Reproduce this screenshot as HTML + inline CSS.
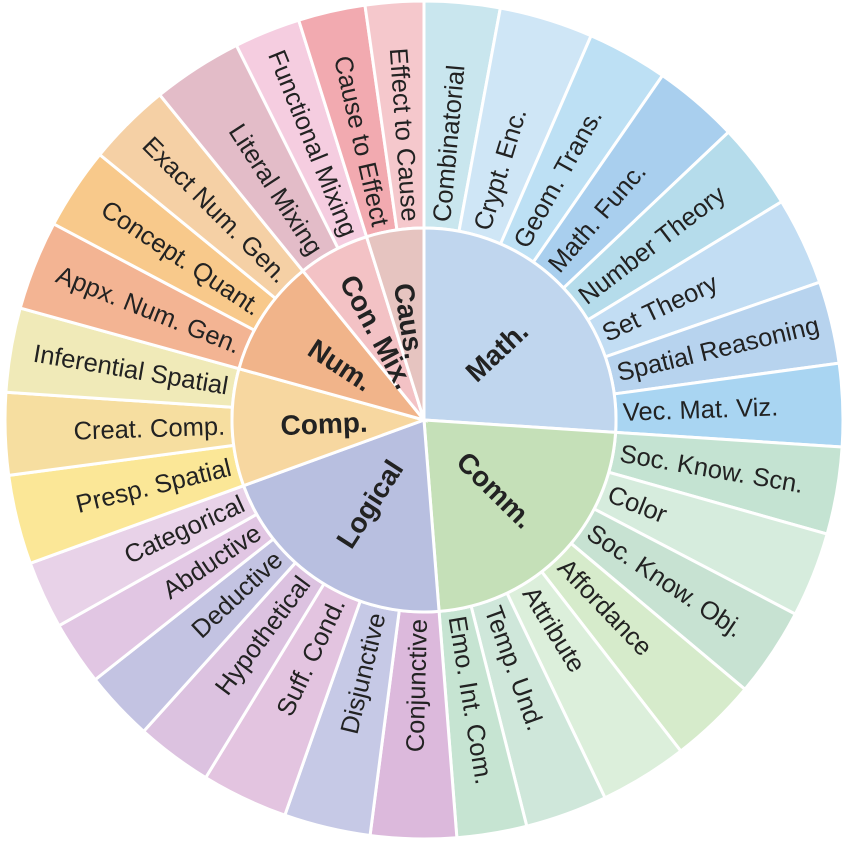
<!DOCTYPE html>
<html><head><meta charset="utf-8"><style>
html,body{margin:0;padding:0;background:#fff;}
svg text{font-family:"Liberation Sans",Arial,sans-serif;}
</style></head><body>
<svg id="chart" width="844" height="841" viewBox="0 0 844 841" xmlns="http://www.w3.org/2000/svg"></svg>
<script>
const groups = ["Math.","Comm.","Logical","Comp.","Num.","Con. Mix.","Caus."];
const groupColors = ["#c0d6ee","#c5e0b8","#b8bfe0","#f7d7a0","#f1b48a","#f3c2c5","#e6c4c0"];
const leafLabels = ["Combinatorial","Crypt. Enc.","Geom. Trans.","Math. Func.","Number Theory","Set Theory","Spatial Reasoning","Vec. Mat. Viz.",
"Soc. Know. Scn.","Color","Soc. Know. Obj.","Affordance","Attribute","Temp. Und.","Emo. Int. Com.",
"Conjunctive","Disjunctive","Suff. Cond.","Hypothetical","Deductive","Abductive","Categorical",
"Presp. Spatial","Creat. Comp.","Inferential Spatial",
"Appx. Num. Gen.","Concept. Quant.","Exact Num. Gen.",
"Literal Mixing","Functional Mixing",
"Cause to Effect","Effect to Cause"];
const leafGroup = [0,0,0,0,0,0,0,0, 1,1,1,1,1,1,1, 2,2,2,2,2,2,2, 3,3,3, 4,4,4, 5,5, 6,6];
const leafValues = [10.5,13,11.2,11.9,12,12.2,11.4,11.5, 12.1,11.8,12.4,12.2,12.2,11.4,9.7, 11.9,12,12,10.6,9.7,8.9,9.4, 12.4,11.4,11.7, 12.4,11.4,11.6, 12.5,9.2, 9.3,8.1];
const leafColors = ["#c9e6ee","#cfe6f6","#bde0f4","#a9cfee","#b5dceb","#c2ddf3","#b7d3ee","#a9d5f2",
"#c4e3d2","#d6ecdd","#c7e2d2","#d6ebcb","#dcefdb","#cfe7da","#c6e4d2",
"#dcb9dc","#c6c9e6","#e3c4e0","#dcc2e0","#c3c3e2","#e1c6e3","#e8d2e8",
"#fbe797","#f6dea0","#f0eab8",
"#f3b493","#f8c98b","#f5d0a5",
"#e3bcc8","#f5cde0",
"#f2aab0","#f5c8cc"];

const cx=424, cy=420, R0=192, R1=419;
const NS="http://www.w3.org/2000/svg";
const svg=document.getElementById("chart");
const total=leafValues.reduce((a,b)=>a+b,0);
const ang=v=>v/total*360;
function pt(a,r){const t=a*Math.PI/180;return [cx+r*Math.sin(t),cy-r*Math.cos(t)];}
function arc(a0,a1,r0,r1){
  const large=(a1-a0)>180?1:0;
  const p0=pt(a0,r1),p1=pt(a1,r1),p2=pt(a1,r0),p3=pt(a0,r0);
  if(r0===0) return `M${cx},${cy}L${p0}A${r1},${r1} 0 ${large} 1 ${p1}Z`;
  return `M${p0}A${r1},${r1} 0 ${large} 1 ${p1}L${p2}A${r0},${r0} 0 ${large} 0 ${p3}Z`;
}
function label(text,a,r,size,weight,anchorMode){
  const t=document.createElementNS(NS,"text");
  const [x,y]=pt(a,r);
  const right=(a%360)<180;
  const rot=right?a-90:a+90;
  let anchor="middle";
  if(anchorMode==="radial") anchor=right?"start":"end";
  t.setAttribute("x",x);t.setAttribute("y",y);
  t.setAttribute("transform",`rotate(${rot} ${x} ${y})`);
  t.setAttribute("text-anchor",anchor);
  t.setAttribute("dominant-baseline","central");
  t.setAttribute("font-size",size);
  t.setAttribute("font-weight",weight);
  t.setAttribute("fill","#222");
  t.textContent=text;
  return t;
}
let acc=0;
const gStart=groups.map(()=>null), gEnd=groups.map(()=>0);
leafValues.forEach((v,i)=>{
  const a0=ang(acc), a1=ang(acc+v); acc+=v;
  const g=leafGroup[i];
  if(gStart[g]===null) gStart[g]=a0; gEnd[g]=a1;
  const p=document.createElementNS(NS,"path");
  p.setAttribute("d",arc(a0,a1,R0,R1));
  p.setAttribute("fill",leafColors[i]);
  p.setAttribute("stroke","#fff");p.setAttribute("stroke-width","3");
  
  
  svg.appendChild(p);
  const t=label(leafLabels[i],(a0+a1)/2,R0+7,25.5,"normal","radial");
  
  
  svg.appendChild(t);
});
groups.forEach((name,g)=>{
  const p=document.createElementNS(NS,"path");
  p.setAttribute("d",arc(gStart[g],gEnd[g],0,R0));
  p.setAttribute("fill",groupColors[g]);
  p.setAttribute("stroke","#fff");p.setAttribute("stroke-width","3");
  
  
  svg.appendChild(p);
});
groups.forEach((name,g)=>{
  const t=label(name,(gStart[g]+gEnd[g])/2,100,28,"bold","middle");
  
  
  svg.appendChild(t);
});
</script>
</body></html>
